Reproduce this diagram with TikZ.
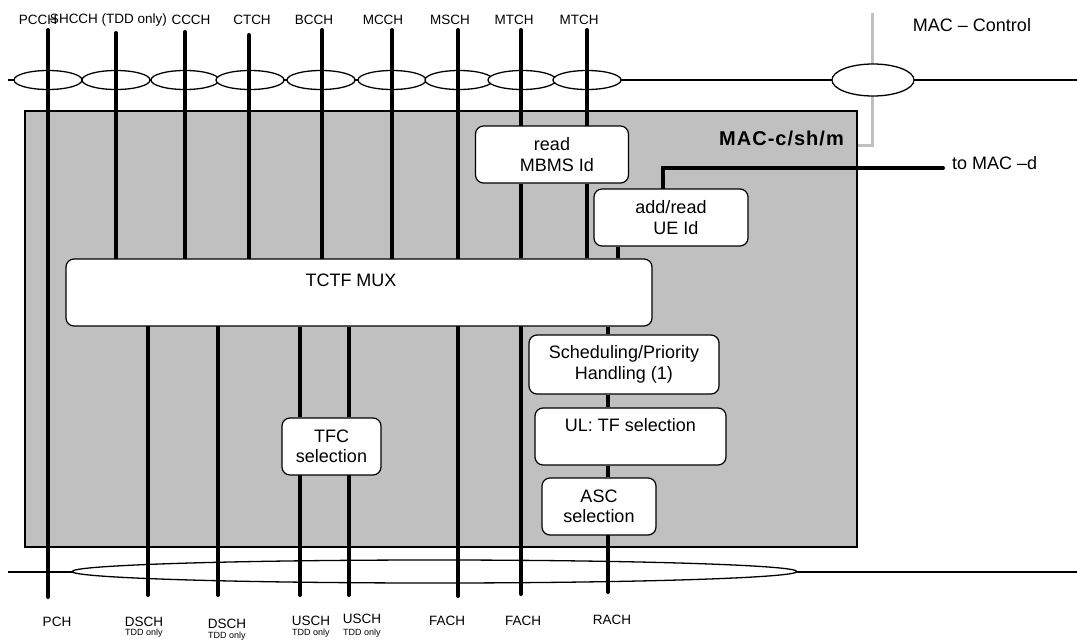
\documentclass[tikz,border=0pt]{standalone}
\usepackage{fontspec}
\setmainfont{Liberation Sans}
\newfontfamily\macfont[LetterSpace=5]{Liberation Sans}
\usetikzlibrary{shapes.geometric}
\definecolor{boxgray}{HTML}{C0C0C0}
\pgfdeclarelayer{bg}
\pgfdeclarelayer{lines}
\pgfsetlayers{bg,lines,main}
\begin{document}
\begin{tikzpicture}[x=1pt,y=-1pt,
  chan/.style={line width=4pt, line cap=round},
  seg/.style={line width=4pt},
  hline/.style={line width=1.2pt},
  proc/.style={draw, line width=1.2pt, fill=white, rounded corners=8pt, inner sep=0pt,
    align=center, font=\fontsize{18}{20.5}\selectfont},
  oval/.style={ellipse, draw, line width=1.3pt, fill=white, inner sep=0pt},
  topoval/.style={oval, minimum width=68pt, minimum height=19pt},
  tlabel/.style={font=\fontsize{13.5}{15}\selectfont, inner sep=0pt},
  small/.style={font=\fontsize{9}{10}\selectfont, inner sep=0pt},
  biglabel/.style={font=\fontsize{18}{20}\selectfont, inner sep=0pt}
]
\useasboundingbox (0,0) rectangle (1077,640);

% processing boxes
\path
  (552,154.5) node[proc, minimum width=153pt, minimum height=57pt] (mbms) {read\\\ \ MBMS Id}
  (671,217.5) node[proc, minimum width=154pt, minimum height=57pt] (ueid) {add/read\\\ \ UE Id}
  (359,292.5) node[proc, minimum width=586pt, minimum height=67pt] (tctf) {}
  (624,364.5) node[proc, minimum width=190pt, minimum height=59pt] (sched) {Scheduling/Priority\\Handling (1)}
  (630.5,436.5) node[proc, minimum width=191pt, minimum height=57pt] (tfsel) {}
  (599,506.5) node[proc, minimum width=114pt, minimum height=57pt] (asc) {ASC\\selection}
  (331.5,446.5) node[proc, minimum width=99pt, minimum height=57pt] (tfc) {TFC\\selection};
\node[biglabel] (tctftext) at ([xshift=-8pt,yshift=-22pt]tctf.north) {TCTF MUX};
\node[biglabel] (tfseltext) at ([yshift=-18pt]tfsel.north) {UL: TF selection};

\begin{pgfonlayer}{bg}
% MAC-c/sh/m entity
\node[draw, line width=1.2pt, fill=boxgray, minimum width=832pt, minimum height=436pt, inner sep=0pt]
  (mac) at (441,329) {};
% control line (grey)
\coordinate (ctltop) at (872,13);
\coordinate (ctlbot) at (872,145);
\draw[boxgray, line width=3pt] (ctltop) -- (ctlbot) -- (ctlbot -| mac.east);
% horizontal SAP lines
\coordinate (tl) at (8,80);  \coordinate (tr) at (1077,80);
\coordinate (bl) at (8,572); \coordinate (br) at (1077,572);
\draw[hline] (tl) -- (tr);
\draw[hline] (bl) -- (br);
% ellipses
\foreach \x/\n in {48/e1,116/e2,185/e3,250/e4,321/e5,392/e6,459/e7,522/e8,587/e9}
  \node[topoval] (\n) at (\x,80) {};
\node[oval, minimum width=82pt, minimum height=32pt] (ectl) at (873,80) {};
\node[oval, minimum width=725pt, minimum height=23pt] (ebot) at (434.5,571.5) {};
\end{pgfonlayer}

\node[font=\macfont\bfseries\fontsize{20}{22}\selectfont, anchor=east, inner sep=0pt] (macname) at (844,138) {MAC-c/sh/m};

% channel end points
\coordinate (pcch) at (48,30);    \coordinate (pch) at (48,597);
\coordinate (shcch) at (116,33);
\coordinate (ccch) at (185,32);
\coordinate (ctch) at (249,35);
\coordinate (bcch) at (322,30);
\coordinate (mcch) at (392,30);
\coordinate (msch) at (458,30);   \coordinate (fach1) at (458,596);
\coordinate (mtch1) at (521,30);  \coordinate (fach2) at (521,594);
\coordinate (mtch2) at (587,30);
\coordinate (dsch1) at (148,595);
\coordinate (dsch2) at (218,595);
\coordinate (usch1) at (300,595);
\coordinate (usch2) at (349,595);
\coordinate (rach) at (608,592);
\coordinate (macd) at (943,168);
\coordinate (ueup) at (663,168);

\begin{pgfonlayer}{lines}
\draw[chan] (pcch) -- (pch);
\foreach \c in {shcch,ccch,ctch,bcch,mcch}
  \draw[chan] (\c) -- (\c |- tctf.north);
\draw[chan] (msch) -- (fach1);
\draw[chan] (mtch1) -- (mtch1 |- mbms.north);
\draw[seg] (mtch1 |- mbms.south) -- (mtch1 |- tctf.north);
\draw[chan] (fach2 |- tctf.south) -- (fach2);
\draw[chan] (mtch2) -- (mtch2 |- mbms.north);
\draw[seg] (mtch2 |- mbms.south) -- (mtch2 |- tctf.north);
\draw[seg] (ueid.south -| 618,0) -- (tctf.north -| 618,0);
\draw[chan] (ueid.north -| ueup) -- (ueup) -- (macd);
\foreach \c in {dsch1,dsch2}
  \draw[chan] (tctf.south -| \c) -- (\c);
\foreach \c in {usch1,usch2} {
  \draw[seg] (tctf.south -| \c) -- (tfc.north -| \c);
  \draw[chan] (tfc.south -| \c) -- (\c);
}
\draw[seg] (tctf.south -| rach) -- (sched.north -| rach);
\draw[seg] (sched.south -| rach) -- (tfsel.north -| rach);
\draw[seg] (tfsel.south -| rach) -- (asc.north -| rach);
\draw[chan] (asc.south -| rach) -- (rach);
\end{pgfonlayer}

% top labels
\node[tlabel] (lpcch) at (38,20) {PCCH};
\node[tlabel] (lshcch) at (108.5,20) {SHCCH (TDD only)};
\node[tlabel] (lccch) at (191,20) {CCCH};
\node[tlabel] (lctch) at (252,20) {CTCH};
\node[tlabel] (lbcch) at (314,20) {BCCH};
\node[tlabel] (lmcch) at (383,20) {MCCH};
\node[tlabel] (lmsch) at (450,20) {MSCH};
\node[tlabel] (lmtch1) at (514,20) {MTCH};
\node[tlabel] (lmtch2) at (579,20) {MTCH};
\node[biglabel] (lctl) at (972,25) {MAC – Control};
\node[biglabel, anchor=west] (lmacd) at (952,163) {to MAC –d};

% bottom labels
\node[tlabel] (lpch) at (57,622) {PCH};
\node[tlabel] (ldsch1) at (144,622) {DSCH};
\node[small] (tdd1) at (144,633) {TDD only};
\node[tlabel] (ldsch2) at (227,624) {DSCH};
\node[small] (tdd2) at (227,636) {TDD only};
\node[tlabel] (lusch1) at (311,621) {USCH};
\node[small] (tdd3) at (311,633) {TDD only};
\node[tlabel] (lusch2) at (362,619) {USCH};
\node[small] (tdd4) at (362,633) {TDD only};
\node[tlabel] (lfach1) at (447,621) {FACH};
\node[tlabel] (lfach2) at (523,621) {FACH};
\node[tlabel] (lrach) at (612,620) {RACH};
\end{tikzpicture}
\end{document}
